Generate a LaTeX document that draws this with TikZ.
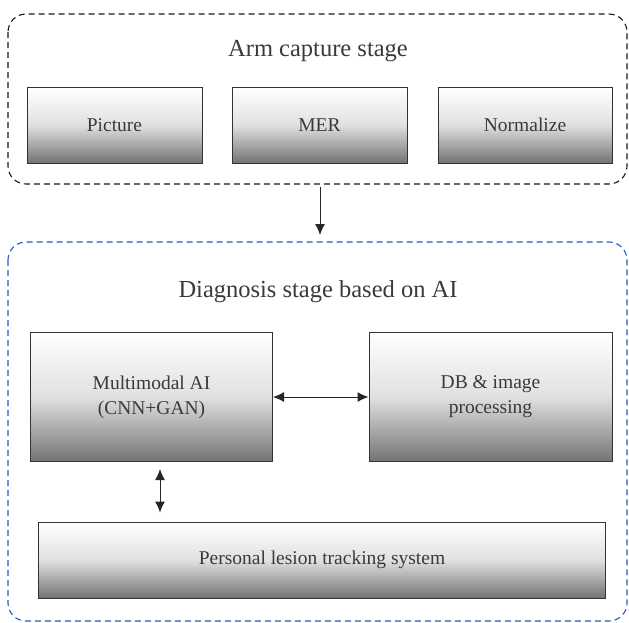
\documentclass[tikz,border=0pt]{standalone}
\usepackage{fontspec}
\setmainfont{Liberation Serif}
\usetikzlibrary{arrows.meta}
\definecolor{txt}{HTML}{3A3A3A}
\definecolor{stageblue}{HTML}{1F5CC0}
\begin{document}
\begin{tikzpicture}[x=1pt,y=-1pt,
  stagebox/.style={draw=black!90, dashed, dash pattern=on 6pt off 4pt, line width=1.1pt, rounded corners=18pt},
  gbox/.style={draw=black!80, line width=1pt, top color=white, bottom color=black!55, middle color=black!12, shading angle=0, text=txt, font=\fontsize{19.5}{25}\selectfont, align=center, inner sep=0pt},
  ttl/.style={text=txt, font=\fontsize{24.5}{29}\selectfont},
  arr/.style={line width=1pt, draw=black!85, -{Latex[length=11pt,width=10pt]}},
  darr/.style={line width=1pt, draw=black!85, {Latex[length=11pt,width=10pt]}-{Latex[length=11pt,width=10pt]}}
]
\useasboundingbox (0,0) rectangle (629,622);
% stage 1
\draw[stagebox] (8,14) rectangle (627,184);
\node[ttl] (t1) at (318,51) {Arm capture stage};
\node[gbox, minimum width=175pt, minimum height=76pt] (pic) at (114.5,125) {Picture};
\node[gbox, minimum width=175pt, minimum height=76pt] (mer) at (319.5,125) {MER};
\node[gbox, minimum width=174pt, minimum height=76pt] (nor) at (525,125) {Normalize};
% stage 2
\draw[stagebox, draw=stageblue] (8,242) rectangle (627,621);
\node[ttl] (t2) at (318,292) {Diagnosis stage based on AI};
\node[gbox, minimum width=242pt, minimum height=129pt] (mm) at (151.5,397) {Multimodal AI\\(CNN+GAN)};
\node[gbox, minimum width=243pt, minimum height=129pt] (db) at (490.5,397) {DB \& image\\processing};
\node[gbox, minimum width=567pt, minimum height=76pt] (pl) at (322,560) {Personal lesion tracking system};
\coordinate (s1b) at (320,187);
\coordinate (s2t) at (320,235);
\draw[arr] (s1b) -- (s2t);
\draw[darr] (mm.east) -- (db.west);
\draw[darr] ([yshift=-7pt]mm.south -| 160,0) -- ([yshift=9pt]pl.north -| 160,0);
\end{tikzpicture}
\end{document}
